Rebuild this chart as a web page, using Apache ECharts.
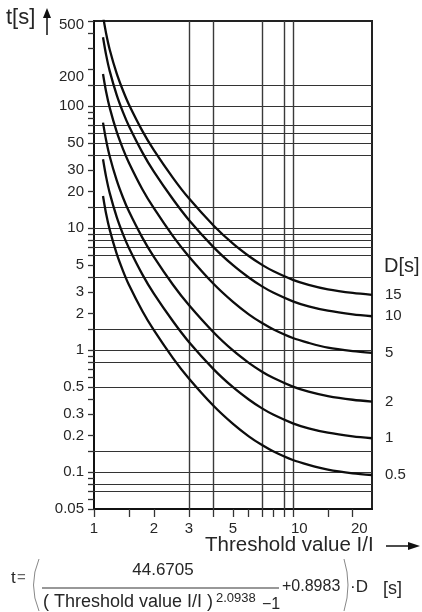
<!DOCTYPE html>
<html>
<head>
<meta charset="utf-8">
<script src="https://cdn.jsdelivr.net/npm/echarts@6/dist/echarts.min.js"></script>
<style>
  html, body { margin: 0; padding: 0; background: #fff; }
  #chart { width: 422px; height: 612px; }
</style>
</head>
<body>
<div id="chart"></div>
<script>
// Threshold value I/I sampled along every tripping curve
const thresholdRatio = [1.11, 1.15, 1.2, 1.3, 1.4, 1.5, 1.75, 2, 2.5, 3, 4, 5, 6, 7, 8, 10, 12, 15, 20, 25];

// Tripping time t[s] for each time multiplier D[s]
const multiplierNames = ['15', '10', '5', '2', '1', '0.5'];
const tripTimeD15 = [551, 397, 291, 186, 134, 103, 62.9, 43.7, 25.8, 17.6, 10.5, 7.47, 5.92, 5.01, 4.44, 3.78, 3.44, 3.16, 2.95, 2.85];
const tripTimeD10 = [368, 265, 194, 124, 89.1, 68.6, 41.9, 29.1, 17.2, 11.7, 6.98, 4.98, 3.95, 3.34, 2.96, 2.52, 2.29, 2.11, 1.97, 1.90];
const tripTimeD5 = [184, 132, 97.0, 61.9, 44.6, 34.3, 20.9, 14.6, 8.59, 5.87, 3.49, 2.49, 1.97, 1.67, 1.48, 1.26, 1.15, 1.05, 0.983, 0.951];
const tripTimeD2 = [73.5, 52.9, 38.8, 24.8, 17.8, 13.7, 8.38, 5.83, 3.43, 2.35, 1.40, 0.996, 0.789, 0.668, 0.592, 0.504, 0.458, 0.421, 0.393, 0.380];
const tripTimeD1 = [36.8, 26.5, 19.4, 12.4, 8.91, 6.86, 4.19, 2.91, 1.72, 1.17, 0.698, 0.498, 0.395, 0.334, 0.296, 0.252, 0.229, 0.211, 0.197, 0.190];
const tripTimeD05 = [18.4, 13.2, 9.70, 6.19, 4.46, 3.43, 2.10, 1.46, 0.859, 0.587, 0.349, 0.249, 0.197, 0.167, 0.148, 0.126, 0.115, 0.105, 0.098, 0.095];

// Axis ticks and tick labels
const xTickValues = [1, 1.5, 2, 3, 4, 5, 6, 7, 8, 9, 10, 15, 20];
const xLabelValues = [1, 2, 3, 5, 10, 20];
const yTickValues = [500, 400, 300, 200, 150, 100, 90, 80, 70, 60, 50, 40, 30, 20, 15, 10, 9, 8, 7, 6, 5, 4, 3, 2, 1.5,
  1, 0.9, 0.8, 0.7, 0.6, 0.5, 0.4, 0.3, 0.2, 0.15, 0.1, 0.09, 0.08, 0.07, 0.06, 0.05];
const yLabelValues = [500, 200, 100, 50, 30, 20, 10, 5, 3, 2, 1, 0.5, 0.3, 0.2, 0.1, 0.05];

// Reference lines across the plot
const xGridValues = [3, 4, 7, 9, 10];
const yGridValues = [150, 100, 70, 60, 50, 40, 15, 10, 9, 8, 7, 6, 4, 1.5, 1, 0.8, 0.5, 0.15, 0.1, 0.08, 0.07];

const FONT = '"Liberation Sans", Arial, Helvetica, sans-serif';
const INK = '#262626';

const curveTables = [tripTimeD15, tripTimeD10, tripTimeD5, tripTimeD2, tripTimeD1, tripTimeD05];

const curveSeries = curveTables.map((times, k) => ({
  name: multiplierNames[k],
  type: 'line',
  data: thresholdRatio.map((r, i) => [r, times[i]]),
  symbol: 'none',
  smooth: 0.3,
  clip: true,
  z: 5,
  lineStyle: { color: '#0d0d0d', width: 2.3 },
  endLabel: {
    show: true,
    formatter: multiplierNames[k],
    distance: 13,
    color: INK,
    fontSize: 15,
    fontFamily: FONT
  },
  emphasis: { disabled: true }
}));

const gridLineSeries = {
  type: 'line',
  data: [],
  symbol: 'none',
  silent: true,
  z: 2,
  markLine: {
    silent: true,
    symbol: ['none', 'none'],
    animation: false,
    label: { show: false },
    emphasis: { disabled: true },
    data: [
      ...yGridValues.map(v => ({ yAxis: v, lineStyle: { color: '#333', width: 1.1, type: 'solid' } })),
      ...xGridValues.map(v => ({ xAxis: v, lineStyle: { color: '#3a3a3a', width: 1.4, type: 'solid' } }))
    ]
  }
};

const fmt = v => String(+Number(v).toPrecision(6));

const chart = echarts.init(document.getElementById('chart'), null, { renderer: 'canvas' });

chart.setOption({
  animation: false,
  backgroundColor: '#fff',
  textStyle: { fontFamily: FONT },
  grid: {
    left: 94, top: 21, width: 278, height: 488,
    show: true, borderColor: '#222', borderWidth: 2, backgroundColor: 'transparent'
  },
  xAxis: {
    type: 'log',
    logBase: 10,
    min: 1,
    max: 25,
    axisLine: { show: true, onZero: false, lineStyle: { color: '#111', width: 2 } },
    axisTick: { show: true, customValues: xTickValues, length: 8, lineStyle: { color: '#333', width: 1.3 } },
    minorTick: { show: false },
    splitLine: { show: false },
    axisLabel: {
      customValues: xLabelValues,
      margin: 12,
      color: INK,
      fontSize: 15,
      formatter: v => (v >= 10 ? '{r|' + fmt(v) + '}' : fmt(v)),
      rich: { r: { padding: [0, 0, 0, 13], fontSize: 15, color: INK, fontFamily: FONT } }
    }
  },
  yAxis: {
    type: 'log',
    logBase: 10,
    min: 0.05,
    max: 500,
    axisLine: { show: true, onZero: false, lineStyle: { color: '#111', width: 2 } },
    axisTick: { show: true, customValues: yTickValues, length: 6, lineStyle: { color: '#333', width: 1.3 } },
    minorTick: { show: false },
    splitLine: { show: false },
    axisLabel: {
      customValues: yLabelValues,
      margin: 10,
      color: INK,
      fontSize: 15,
      formatter: v => {
        const s = fmt(v);
        if (s === '500') return '{a|500}';
        if (s === '200') return '{b|200}';
        return s;
      },
      rich: {
        a: { padding: [8, 0, 0, 0], fontSize: 15, color: INK, fontFamily: FONT },
        b: { padding: [14, 0, 0, 0], fontSize: 15, color: INK, fontFamily: FONT }
      }
    }
  },
  series: [gridLineSeries, ...curveSeries],
  graphic: [
    // vertical axis title with arrow
    { type: 'text', style: { text: 't[s]', x: 6, y: 18, font: '22px ' + FONT, fill: INK, textVerticalAlign: 'middle' } },
    { type: 'line', shape: { x1: 47, y1: 16, x2: 47, y2: 35 }, style: { stroke: '#111', lineWidth: 1.5 } },
    { type: 'polygon', shape: { points: [[47, 8], [43, 18], [51, 18]] }, style: { fill: '#111' } },

    // horizontal axis title with arrow
    { type: 'text', style: { text: 'Threshold value I/I', x: 205, y: 545, font: '20.5px ' + FONT, fill: INK, textVerticalAlign: 'middle' } },
    { type: 'line', shape: { x1: 386, y1: 546, x2: 410, y2: 546 }, style: { stroke: '#111', lineWidth: 1.5 } },
    { type: 'polygon', shape: { points: [[420, 546], [408, 542], [408, 550]] }, style: { fill: '#111' } },

    // curve parameter heading
    { type: 'text', style: { text: 'D[s]', x: 384, y: 266, font: '20px ' + FONT, fill: INK, textVerticalAlign: 'middle' } },

    // tripping-time formula
    { type: 'text', style: { text: 't', x: 11, y: 578, font: '17px ' + FONT, fill: INK, textVerticalAlign: 'middle' } },
    { type: 'text', style: { text: '=', x: 17, y: 578, font: '15px ' + FONT, fill: '#666', textVerticalAlign: 'middle' } },
    { type: 'bezierCurve', shape: { x1: 39, y1: 559, cpx1: 28, cpy1: 585, x2: 39, y2: 611 }, style: { stroke: '#888', lineWidth: 1, fill: null } },
    { type: 'text', style: { text: '44.6705', x: 163, y: 570, font: '17px ' + FONT, fill: INK, textAlign: 'center', textVerticalAlign: 'middle' } },
    { type: 'line', shape: { x1: 42, y1: 588, x2: 279, y2: 588 }, style: { stroke: '#333', lineWidth: 1.2 } },
    { type: 'text', style: { text: '( Threshold value I/I )', x: 43, y: 602, font: '18px ' + FONT, fill: INK, textVerticalAlign: 'middle' } },
    { type: 'text', style: { text: '2.0938', x: 216, y: 598, font: '13px ' + FONT, fill: INK, textVerticalAlign: 'middle' } },
    { type: 'text', style: { text: '\u22121', x: 262, y: 605, font: '16px ' + FONT, fill: INK, textVerticalAlign: 'middle' } },
    { type: 'text', style: { text: '+0.8983', x: 282, y: 587, font: '16px ' + FONT, fill: INK, textVerticalAlign: 'middle' } },
    { type: 'bezierCurve', shape: { x1: 344, y1: 559, cpx1: 352, cpy1: 585, x2: 344, y2: 611 }, style: { stroke: '#888', lineWidth: 1, fill: null } },
    { type: 'text', style: { text: '\u00b7D', x: 350, y: 587, font: '17px ' + FONT, fill: INK, textVerticalAlign: 'middle' } },
    { type: 'text', style: { text: '[s]', x: 383, y: 589, font: '18px ' + FONT, fill: INK, textVerticalAlign: 'middle' } }
  ]
});
</script>
</body>
</html>
